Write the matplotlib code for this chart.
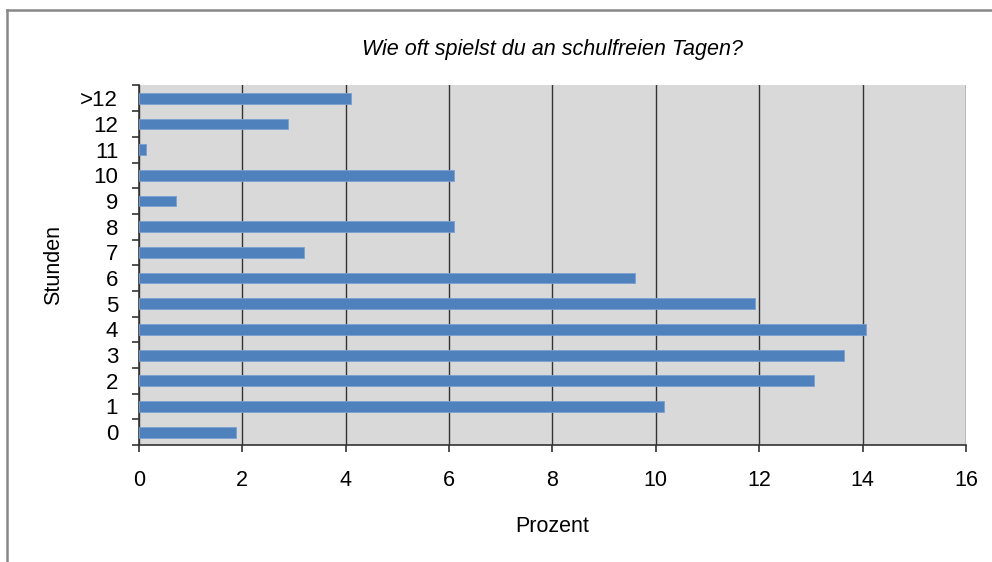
import numpy as np
import matplotlib.pyplot as plt
from matplotlib.lines import Line2D

plt.rcParams['font.family'] = ['Liberation Sans', 'DejaVu Sans']

stunden = ['0', '1', '2', '3', '4', '5', '6', '7', '8', '9', '10', '11', '12', '>12']
prozent = [1.87, 10.15, 13.06, 13.64, 14.07, 11.91, 9.59, 3.19, 6.1, 0.72, 6.09, 0.14, 2.89, 4.1]

titel = 'Wie oft spielst du an schulfreien Tagen?'

fig = plt.figure(figsize=(9.92, 5.62), dpi=100)
ax = fig.add_axes([0.1401, 0.2082, 0.8337, 0.6397])

y = np.arange(len(stunden))
ax.set_facecolor('#d9d9d9')
ax.barh(y, prozent, height=0.42, color='#4f81bd', edgecolor='#7a9fd0', linewidth=0.6, zorder=3)

ax.set_xlim(0, 16)
ax.set_ylim(-0.5, len(stunden) - 0.5)
ax.set_xticks(np.arange(0, 17, 2))
ax.set_yticks(y)
ax.set_yticklabels(stunden)
ax.set_yticks(np.arange(-0.5, len(stunden), 1), minor=True)

ax.grid(axis='x', color='#333333', linewidth=1.0, zorder=1)
ax.set_axisbelow(True)

for s in ['top', 'right']:
    ax.spines[s].set_visible(False)
for s in ['left', 'bottom']:
    ax.spines[s].set_color('#333333')
    ax.spines[s].set_linewidth(1.2)

ax.tick_params(axis='y', which='major', length=0, pad=15, labelsize=16)
ax.tick_params(axis='y', which='minor', length=5, width=1.2, color='#333333')
ax.tick_params(axis='x', which='major', length=5, width=1.2, color='#333333', pad=13, labelsize=15.5)

ax.set_xlabel('Prozent', fontsize=15.5, labelpad=18)
ax.set_ylabel('Stunden', fontsize=15.5, labelpad=12)
ax.set_title(titel, fontsize=15.5, style='italic', pad=22)

# Rahmen oben und links
fig.add_artist(Line2D([7 / 992, 1], [1 - 10 / 562] * 2, color='#888888', linewidth=1.8))
fig.add_artist(Line2D([7 / 992] * 2, [0, 1 - 10 / 562], color='#888888', linewidth=1.8))

fig.savefig('out.png', dpi=100)
